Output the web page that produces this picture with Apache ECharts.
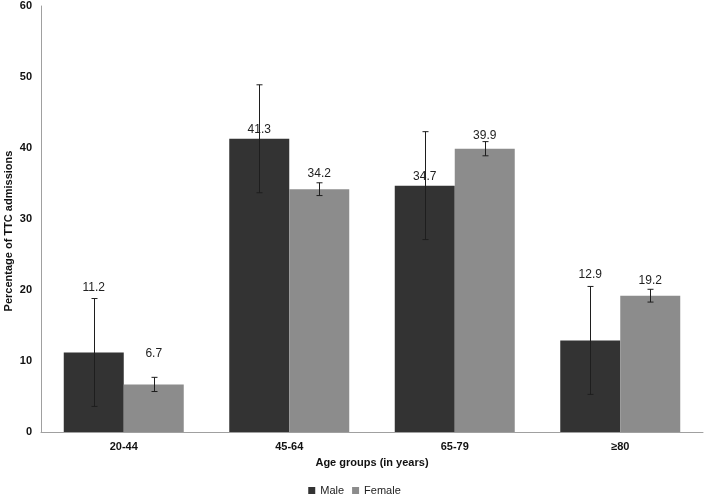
<!DOCTYPE html>
<html>
<head>
<meta charset="utf-8">
<script src="https://cdn.jsdelivr.net/npm/echarts@6/dist/echarts.min.js"></script>
<style>html,body{margin:0;padding:0;background:#fff}#c{width:709px;height:497px}</style>
</head>
<body>
<div id="c"></div>
<script>
// ---- data ----
const categories = ['20-44', '45-64', '65-79', '\u226580'];
const maleValues = [11.2, 41.3, 34.7, 12.9];
const femaleValues = [6.7, 34.2, 39.9, 19.2];
const maleError = [7.6, 7.6, 7.6, 7.6];
const femaleError = [1.0, 0.9, 1.0, 0.9];
const yTicks = [0, 10, 20, 30, 40, 50, 60];

// ---- style ----
const FONT = "'Liberation Sans', Arial, sans-serif";
const GAP = 0.275;
const maleLabelLift = [59, 3, 3, 60];
const femaleLabelLift = [25, 9, 7, 9];

function errData(vals, errs) {
  return vals.map((v, i) => [i, v - errs[i], v + errs[i]]);
}
function renderErr(sign) {
  return function (params, api) {
    const idx = api.value(0);
    const lo = api.coord([idx, api.value(1)]);
    const hi = api.coord([idx, api.value(2)]);
    const band = api.size([1, 0])[0];
    const barW = band * (1 - GAP) / 2;
    const cx = Math.round(lo[0] + sign * barW / 2) + 0.5;
    const cap = 3;
    const st = { stroke: '#1e1e1e', lineWidth: 1 };
    return {
      type: 'group',
      children: [
        { type: 'line', shape: { x1: cx, y1: hi[1], x2: cx, y2: lo[1] }, style: st },
        { type: 'line', shape: { x1: cx - cap, y1: hi[1], x2: cx + cap, y2: hi[1] }, style: st },
        { type: 'line', shape: { x1: cx - cap, y1: lo[1], x2: cx + cap, y2: lo[1] }, style: st }
      ]
    };
  };
}
function barData(vals, lifts) {
  return vals.map((v, i) => ({ value: v, label: { distance: lifts[i] } }));
}

const chart = echarts.init(document.getElementById('c'));
chart.setOption({
  animation: false,
  backgroundColor: '#fff',
  textStyle: { fontFamily: FONT },
  grid: { left: 41, right: 6, top: 6, bottom: 65, containLabel: false, outerBoundsMode: 'none' },
  legend: {
    data: ['Male', 'Female'],
    top: 485, left: 'center',
    itemWidth: 7, itemHeight: 7, itemGap: 8, icon: 'rect',
    textStyle: { fontFamily: FONT, fontSize: 11, color: '#222' },
    padding: 0
  },
  xAxis: {
    type: 'category',
    data: categories,
    name: 'Age groups (in years)',
    nameLocation: 'middle',
    nameGap: 25,
    nameMoveOverlap: false,
    nameTextStyle: { fontFamily: FONT, fontSize: 11, fontWeight: 'bold', color: '#111' },
    axisLine: { lineStyle: { color: '#a0a0a0', width: 1 } },
    axisTick: { show: false },
    axisLabel: { fontFamily: FONT, fontSize: 11, fontWeight: 'bold', color: '#111', margin: 9 }
  },
  yAxis: {
    type: 'value',
    min: yTicks[0], max: yTicks[yTicks.length - 1], interval: 10,
    name: 'Percentage of TTC admissions',
    nameLocation: 'middle',
    nameGap: 27,
    nameMoveOverlap: false,
    nameTextStyle: { fontFamily: FONT, fontSize: 11, fontWeight: 'bold', color: '#111', padding: [0, 0, 0, -24] },
    axisLine: { show: true, lineStyle: { color: '#a0a0a0', width: 1 } },
    axisTick: { show: false },
    splitLine: { show: false },
    axisLabel: { fontFamily: FONT, fontSize: 11, fontWeight: 'bold', color: '#111', margin: 9 }
  },
  series: [
    {
      name: 'Male', type: 'bar', data: barData(maleValues, maleLabelLift),
      barGap: '0%', barCategoryGap: (GAP * 100) + '%',
      itemStyle: { color: '#333333' },
      label: { show: true, position: 'top', fontFamily: FONT, fontSize: 12, color: '#222',
        formatter: p => p.value.toFixed(1) }
    },
    {
      name: 'Female', type: 'bar', data: barData(femaleValues, femaleLabelLift),
      barGap: '0%', barCategoryGap: (GAP * 100) + '%',
      itemStyle: { color: '#8c8c8c' },
      label: { show: true, position: 'top', fontFamily: FONT, fontSize: 12, color: '#222',
        formatter: p => p.value.toFixed(1) }
    },
    {
      name: 'MaleErr', type: 'custom', renderItem: renderErr(-1),
      data: errData(maleValues, maleError), z: 5, encode: { x: 0, y: [1, 2] }, silent: true
    },
    {
      name: 'FemaleErr', type: 'custom', renderItem: renderErr(1),
      data: errData(femaleValues, femaleError), z: 5, encode: { x: 0, y: [1, 2] }, silent: true
    }
  ]
});
</script>
</body>
</html>
